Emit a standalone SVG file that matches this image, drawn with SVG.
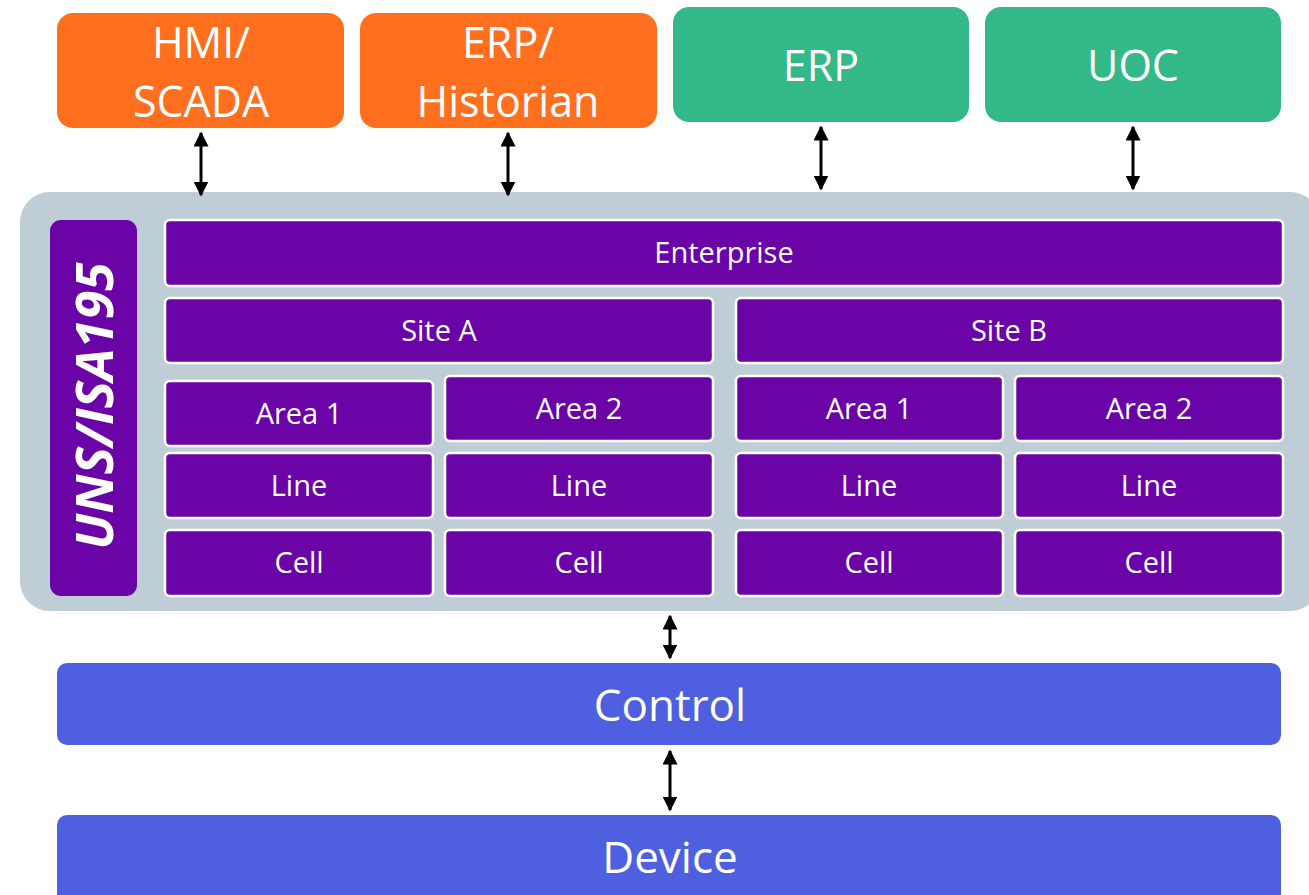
<svg xmlns="http://www.w3.org/2000/svg" width="1309" height="895" viewBox="0 0 1309 895">
<style>
.t{font-family:"Open Sans","Noto Sans","Liberation Sans",sans-serif;fill:#fff;text-anchor:middle}
.top{font-size:43px}
.p{font-size:29px}
.big{font-size:44px}
.pb{fill:#6A04A6;stroke:#fff;stroke-width:2.5}
.or{fill:#FF6F1E}
.gr{fill:#33B987}
.bl{fill:#4E5FE0}
.c{stroke:#000;stroke-width:3;fill:none;marker-start:url(#ah);marker-end:url(#ah)}
</style>
<defs>
<marker id="ah" viewBox="0 0 10 10" refX="9" refY="5" markerWidth="5" markerHeight="5" orient="auto-start-reverse" markerUnits="strokeWidth">
<path d="M0,0 L10,5 L0,10 Z" fill="#000"/>
</marker>
</defs>
<rect width="1309" height="895" fill="#fff"/>
<g id="hmi"><rect class="or" x="57" y="13" width="287" height="115" rx="16"/><text class="t top" x="201" y="58">HMI/</text><text class="t top" x="201" y="117">SCADA</text></g>
<g id="erp-hist"><rect class="or" x="360" y="13" width="297" height="115" rx="16"/><text class="t top" x="508" y="58">ERP/</text><text class="t top" x="508" y="117">Historian</text></g>
<g id="erp"><rect class="gr" x="673" y="7" width="296" height="115" rx="16"/><text class="t top" x="821" y="81">ERP</text></g>
<g id="uoc"><rect class="gr" x="985" y="7" width="296" height="115" rx="16"/><text class="t top" x="1133" y="81">UOC</text></g>
<g id="uns"><rect x="20" y="192" width="1300" height="419" rx="30" fill="#BFCDD6"/></g>
<g id="uns-label"><rect x="50" y="220" width="87" height="376" rx="11" fill="#6A04A6"/><text class="t" transform="translate(113,406) rotate(-90)" style="font-size:52px;font-weight:bold;font-style:italic">UNS/ISA195</text></g>
<g id="enterprise"><rect class="pb" x="165" y="220" width="1118" height="66" rx="5"/><text class="t p" x="724" y="263">Enterprise</text></g>
<g id="siteA"><rect class="pb" x="165" y="298" width="548" height="65" rx="5"/><text class="t p" x="439" y="341">Site A</text></g>
<g id="siteB"><rect class="pb" x="736" y="298" width="547" height="65" rx="5"/><text class="t p" x="1009" y="341">Site B</text></g>
<g id="a-area1"><rect class="pb" x="165" y="381" width="268" height="65" rx="5"/><text class="t p" x="299" y="424">Area 1</text></g>
<g id="a-area2"><rect class="pb" x="445" y="376" width="268" height="65" rx="5"/><text class="t p" x="579" y="419">Area 2</text></g>
<g id="b-area1"><rect class="pb" x="736" y="376" width="267" height="65" rx="5"/><text class="t p" x="869" y="419">Area 1</text></g>
<g id="b-area2"><rect class="pb" x="1015" y="376" width="268" height="65" rx="5"/><text class="t p" x="1149" y="419">Area 2</text></g>
<g id="a-line1"><rect class="pb" x="165" y="453" width="268" height="65" rx="5"/><text class="t p" x="299" y="496">Line</text></g>
<g id="a-line2"><rect class="pb" x="445" y="453" width="268" height="65" rx="5"/><text class="t p" x="579" y="496">Line</text></g>
<g id="b-line1"><rect class="pb" x="736" y="453" width="267" height="65" rx="5"/><text class="t p" x="869" y="496">Line</text></g>
<g id="b-line2"><rect class="pb" x="1015" y="453" width="268" height="65" rx="5"/><text class="t p" x="1149" y="496">Line</text></g>
<g id="a-cell1"><rect class="pb" x="165" y="530" width="268" height="66" rx="5"/><text class="t p" x="299" y="573">Cell</text></g>
<g id="a-cell2"><rect class="pb" x="445" y="530" width="268" height="66" rx="5"/><text class="t p" x="579" y="573">Cell</text></g>
<g id="b-cell1"><rect class="pb" x="736" y="530" width="267" height="66" rx="5"/><text class="t p" x="869" y="573">Cell</text></g>
<g id="b-cell2"><rect class="pb" x="1015" y="530" width="268" height="66" rx="5"/><text class="t p" x="1149" y="573">Cell</text></g>
<g id="control"><rect class="bl" x="57" y="663" width="1224" height="82" rx="10"/><text class="t big" x="670" y="721">Control</text></g>
<g id="device"><rect class="bl" x="57" y="815" width="1224" height="100" rx="10"/><text class="t big" x="670" y="873">Device</text></g>
<g id="connectors">
<line class="c" x1="201" y1="133" x2="201" y2="195"/>
<line class="c" x1="508" y1="133" x2="508" y2="195"/>
<line class="c" x1="821" y1="127" x2="821" y2="189"/>
<line class="c" x1="1133" y1="127" x2="1133" y2="189"/>
<line class="c" x1="670" y1="616" x2="670" y2="658"/>
<line class="c" x1="670" y1="751" x2="670" y2="810"/>
</g>
</svg>
